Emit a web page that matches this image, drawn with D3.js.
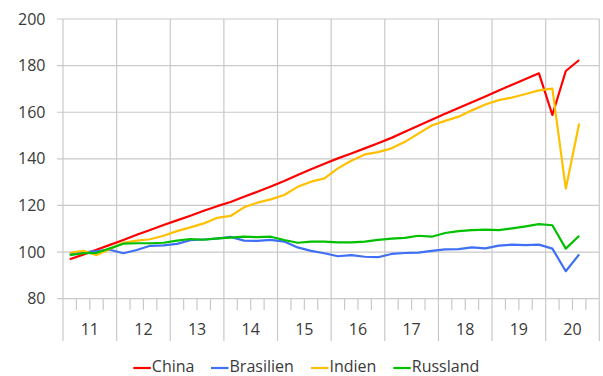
<!DOCTYPE html>
<html><head><meta charset="utf-8">
<script src="https://cdn.jsdelivr.net/npm/d3@7"></script>
<style>
html,body{margin:0;padding:0;background:#fff;}
svg text{font-family:"Open Sans",sans-serif;fill:#3a3a3a;}
</style></head>
<body><svg id="c" width="603" height="376"></svg>
<script>
const years = ["11","12","13","14","15","16","17","18","19","20"];
const quarterNames = ["Q1","Q2","Q3","Q4"];
const yTicks = [80,100,120,140,160,180,200];
const seriesNames = ["China","Brasilien","Indien","Russland"];
const seriesColors = ["#ff0000","#3f6ff5","#ffc000","#00c000"];
const china = [96.9,98.9,101.0,103.1, 105.2,107.4,109.5,111.6, 113.6,115.6,117.7,119.7, 121.5,123.7,125.9,128.1, 130.5,133.1,135.5,137.9, 140.2,142.3,144.5,146.7, 149.0,151.6,154.2,156.8, 159.3,161.8,164.3,166.8, 169.3,171.8,174.3,176.7, 158.8,177.7,182.4];
const brasilien = [99.2,99.9,100.4,101.0, 99.5,100.9,102.7,102.9, 103.5,105.1,105.4,105.8, 106.5,104.9,104.8,105.2, 104.5,102.0,100.5,99.5, 98.2,98.7,98.0,97.8, 99.2,99.6,99.8,100.5, 101.2,101.3,102.0,101.6, 102.8,103.2,103.0,103.2, 101.5,91.8,99.0];
const indien = [99.7,100.5,98.7,101.3, 104.0,104.9,105.5,107.0, 109.0,110.6,112.3,114.7, 115.5,119.2,121.2,122.6, 124.5,128.0,130.2,131.6, 135.9,139.2,141.9,142.9, 144.5,147.3,150.8,154.3, 156.3,158.1,160.8,163.3, 165.2,166.3,167.8,169.4, 170.1,127.2,155.2];
const russland = [98.7,99.5,99.7,101.6, 103.6,103.8,103.8,104.0, 104.9,105.6,105.3,105.9, 106.2,106.6,106.4,106.6, 105.2,104.0,104.5,104.5, 104.2,104.2,104.5,105.2, 105.8,106.1,107.0,106.6, 108.2,109.0,109.4,109.6, 109.4,110.2,111.0,112.0, 111.5,101.5,107.0];

const categories = years.flatMap(y => quarterNames.map(q => y + q));
const series = [china, brasilien, indien, russland];

const svg = d3.select("#c");
const L = 63, R = 599.3, T = 19, B = 298.7;
const x = d3.scaleBand().domain(categories).range([L, R]).padding(0);
const y = d3.scaleLinear().domain([80, 200]).range([B, T]);
const grid = "#c9c9c9";

// horizontal gridlines
svg.append("g").selectAll("line").data(yTicks).join("line")
  .attr("x1", L - 6).attr("x2", R)
  .attr("y1", d => y(d)).attr("y2", d => y(d))
  .attr("stroke", grid).attr("stroke-width", 1.2);

// year separators / vertical gridlines
const yearStarts = years.map(yr => x(yr + "Q1"));
yearStarts.push(R);
svg.append("g").selectAll("line").data(yearStarts).join("line")
  .attr("x1", d => d).attr("x2", d => d)
  .attr("y1", T).attr("y2", 341)
  .attr("stroke", grid).attr("stroke-width", 1.2);

// quarter minor ticks
const minor = categories.filter(c => !c.endsWith("Q1")).map(c => x(c));
svg.append("g").selectAll("line").data(minor).join("line")
  .attr("x1", d => d).attr("x2", d => d)
  .attr("y1", B).attr("y2", 310)
  .attr("stroke", grid).attr("stroke-width", 1.2);

// y labels
svg.append("g").selectAll("text").data(yTicks).join("text")
  .attr("x", 45.5).attr("y", d => y(d) + 5.6)
  .attr("text-anchor", "end").attr("font-size", 16)
  .text(d => d);

// year labels
svg.append("g").selectAll("text").data(years).join("text")
  .attr("x", d => x(d + "Q1") + x.bandwidth() * 2)
  .attr("y", 335).attr("text-anchor", "middle").attr("font-size", 16)
  .text(d => d);

// lines
const line = d3.line()
  .x((d, i) => x(categories[i]) + x.bandwidth() / 2)
  .y(d => y(d));
svg.append("g").selectAll("path").data(series).join("path")
  .attr("d", d => line(d))
  .attr("fill", "none")
  .attr("stroke", (d, i) => seriesColors[i])
  .attr("stroke-width", 2.2)
  .attr("stroke-linejoin", "round");

// legend
const legX = [133.3, 211, 311, 393.3];
const lg = svg.append("g").selectAll("g").data(seriesNames).join("g")
  .attr("transform", (d, i) => `translate(${legX[i]},368)`);
lg.append("line").attr("x1", 0).attr("x2", 17.5).attr("y1", 0).attr("y2", 0)
  .attr("stroke", (d, i) => seriesColors[i]).attr("stroke-width", 2.2);
lg.append("text").attr("x", 18.5).attr("y", 4.2).attr("font-size", 16).text(d => d);
</script></body></html>
